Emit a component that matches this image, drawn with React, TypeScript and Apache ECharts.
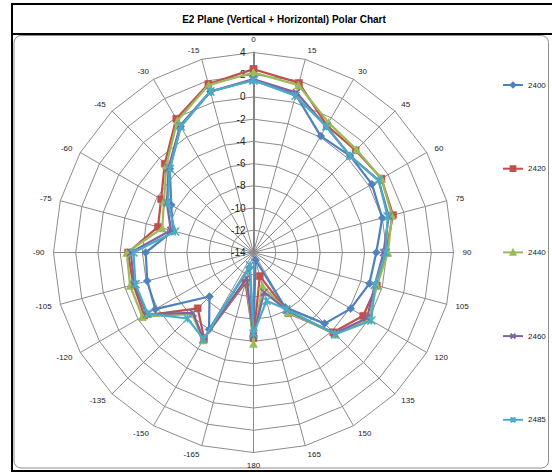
import React, { useEffect, useRef } from 'react';
import * as echarts from 'echarts';

// Angles clockwise from the top (degrees, as labelled)
const angles = [0, 15, 30, 45, 60, 75, 90, 105, 120, 135, 150, 165, 180, -165, -150, -135, -120, -105, -90, -75, -60, -45, -30, -15];

const seriesNames = ['2400', '2420', '2440', '2460', '2485'];

// values (dB) in the same order as `angles`
const s2400 = [1.5, 0.7, -1.9, -1.7, -1.7, -2.0, -2.95, -3.2, -3.9, -4.95, -8.3, -13.3, -6.5, -12.6, -6.0, -8.4, -3.8, -4.1, -4.3, -6.5, -5.45, -3.35, -0.9, 1.0];
const s2420 = [2.5, 1.8, -0.8, -1.0, -0.7, -1.0, -2.1, -2.5, -2.6, -3.85, -7.7, -11.8, -6.3, -11.2, -5.1, -6.9, -2.65, -2.8, -2.7, -5.1, -4.4, -2.7, -0.1, 1.7];
const s2440 = [2.2, 1.6, -0.5, -0.9, -0.7, -1.1, -1.9, -2.5, -2.0, -3.6, -7.8, -10.9, -5.8, -11.5, -4.9, -6.2, -2.45, -2.5, -2.6, -5.5, -4.7, -2.9, -0.3, 1.6];
const s2460 = [1.6, 0.9, -0.9, -1.7, -1.0, -1.4, -2.3, -2.7, -2.2, -3.7, -8.0, -10.3, -6.5, -11.6, -5.0, -6.3, -2.9, -2.9, -2.95, -6.3, -5.0, -3.2, -0.8, 1.0];
const s2485 = [1.5, 0.6, -0.9, -1.7, -1.0, -1.5, -2.1, -2.7, -1.75, -3.6, -8.1, -9.5, -6.7, -12.8, -5.0, -5.6, -3.0, -3.0, -3.2, -6.7, -5.1, -3.35, -0.9, 1.0];

const radialMin = -14;
const radialMax = 4;
const radialStep = 2;

const seriesValues = [s2400, s2420, s2440, s2460, s2485];
const colors = ['#4F81BD', '#C0504D', '#9BBB59', '#8064A2', '#4BACC6'];
const symbols = [
  'diamond',
  'rect',
  'triangle',
  'path://M0,0L10,10M10,0L0,10',
  'path://M5,0L5,10M0,0L10,10M10,0L0,10',
];
const symbolSizes = [8, 7, 8, 7, 8];

const TITLE = 'E2 Plane (Vertical + Horizontal) Polar Chart';
const FONT = 'Liberation Sans, Arial, sans-serif';

export default function App() {
  const ref = useRef<HTMLDivElement>(null);

  useEffect(() => {
    if (!ref.current) return;
    const chart = echarts.init(ref.current, undefined, { renderer: 'svg' });

    // radar indicators are laid out counter-clockwise from the top
    const radarOrder = [angles[0], ...angles.slice(1).reverse()];
    const center = [253.5, 252.5];
    const R = 200;

    const series = seriesNames.map((name, i) => {
      const vals = seriesValues[i];
      const pts = vals.map((v, k) => [v, (angles[k] + 360) % 360]);
      pts.push([vals[0], 360]);
      return {
        type: 'line',
        name,
        coordinateSystem: 'polar',
        data: pts,
        symbol: symbols[i],
        symbolSize: symbolSizes[i],
        showAllSymbol: true,
        lineStyle: { width: 2.25, color: colors[i] },
        itemStyle: { color: colors[i], borderColor: colors[i], borderWidth: i >= 3 ? 1.6 : 0.5 },
        emphasis: { disabled: true },
        z: 3 + i,
      };
    });

    chart.setOption({
      animation: false,
      textStyle: { fontFamily: FONT },
      graphic: [
        {
          type: 'rect',
          shape: { x: 12, y: 4, width: 552, height: 467 },
          style: { fill: 'none', stroke: '#000', lineWidth: 2 },
          silent: true,
        },
        {
          type: 'line',
          shape: { x1: 12, y1: 34, x2: 560, y2: 34 },
          style: { stroke: '#000', lineWidth: 2 },
          silent: true,
        },
        {
          type: 'rect',
          shape: { x: 14, y: 35.5, width: 534.5, height: 432.5, r: 7 },
          style: { fill: 'none', stroke: '#8c8c8c', lineWidth: 1 },
          silent: true,
        },
        {
          type: 'text',
          x: 284,
          y: 19,
          style: {
            text: TITLE,
            fontSize: 10,
            fontWeight: 'bold',
            fontFamily: FONT,
            fill: '#000',
            align: 'center',
            verticalAlign: 'middle',
          },
          silent: true,
        },
      ],
      radar: {
        center,
        radius: R,
        startAngle: 90,
        shape: 'polygon',
        splitNumber: (radialMax - radialMin) / radialStep,
        indicator: radarOrder.map((a) => ({ name: String(a), min: radialMin, max: radialMax })),
        axisName: { color: '#222', fontSize: 8, fontFamily: FONT },
        nameGap: 9,
        splitLine: { lineStyle: { color: '#8c8c8c', width: 1 } },
        splitArea: { show: false },
        axisLine: { lineStyle: { color: '#8c8c8c', width: 1 } },
        axisTick: { show: false },
        axisLabel: { show: false },
        z: 1,
      },
      polar: { center, radius: [0, R] },
      angleAxis: {
        type: 'value',
        min: 0,
        max: 360,
        startAngle: 90,
        clockwise: true,
        show: false,
      },
      radiusAxis: {
        type: 'value',
        min: radialMin,
        max: radialMax,
        interval: radialStep,
        axisLine: { show: true, lineStyle: { color: '#858585', width: 2 } },
        axisTick: { show: false },
        splitLine: { show: false },
        axisLabel: { fontSize: 10, color: '#222', margin: 8, fontFamily: FONT },
        z: 2,
      },
      legend: {
        orient: 'vertical',
        left: 497,
        top: 76,
        itemWidth: 20,
        itemHeight: 6,
        itemGap: 75.7,
        textStyle: { fontSize: 8, color: '#222', fontFamily: FONT },
        data: seriesNames,
        selectedMode: false,
      },
      series,
    });

    return () => chart.dispose();
  }, []);

  return (
    <div
      ref={ref}
      style={{ position: 'absolute', left: 0, top: 0, width: 552, height: 473, background: '#fff' }}
    />
  );
}
